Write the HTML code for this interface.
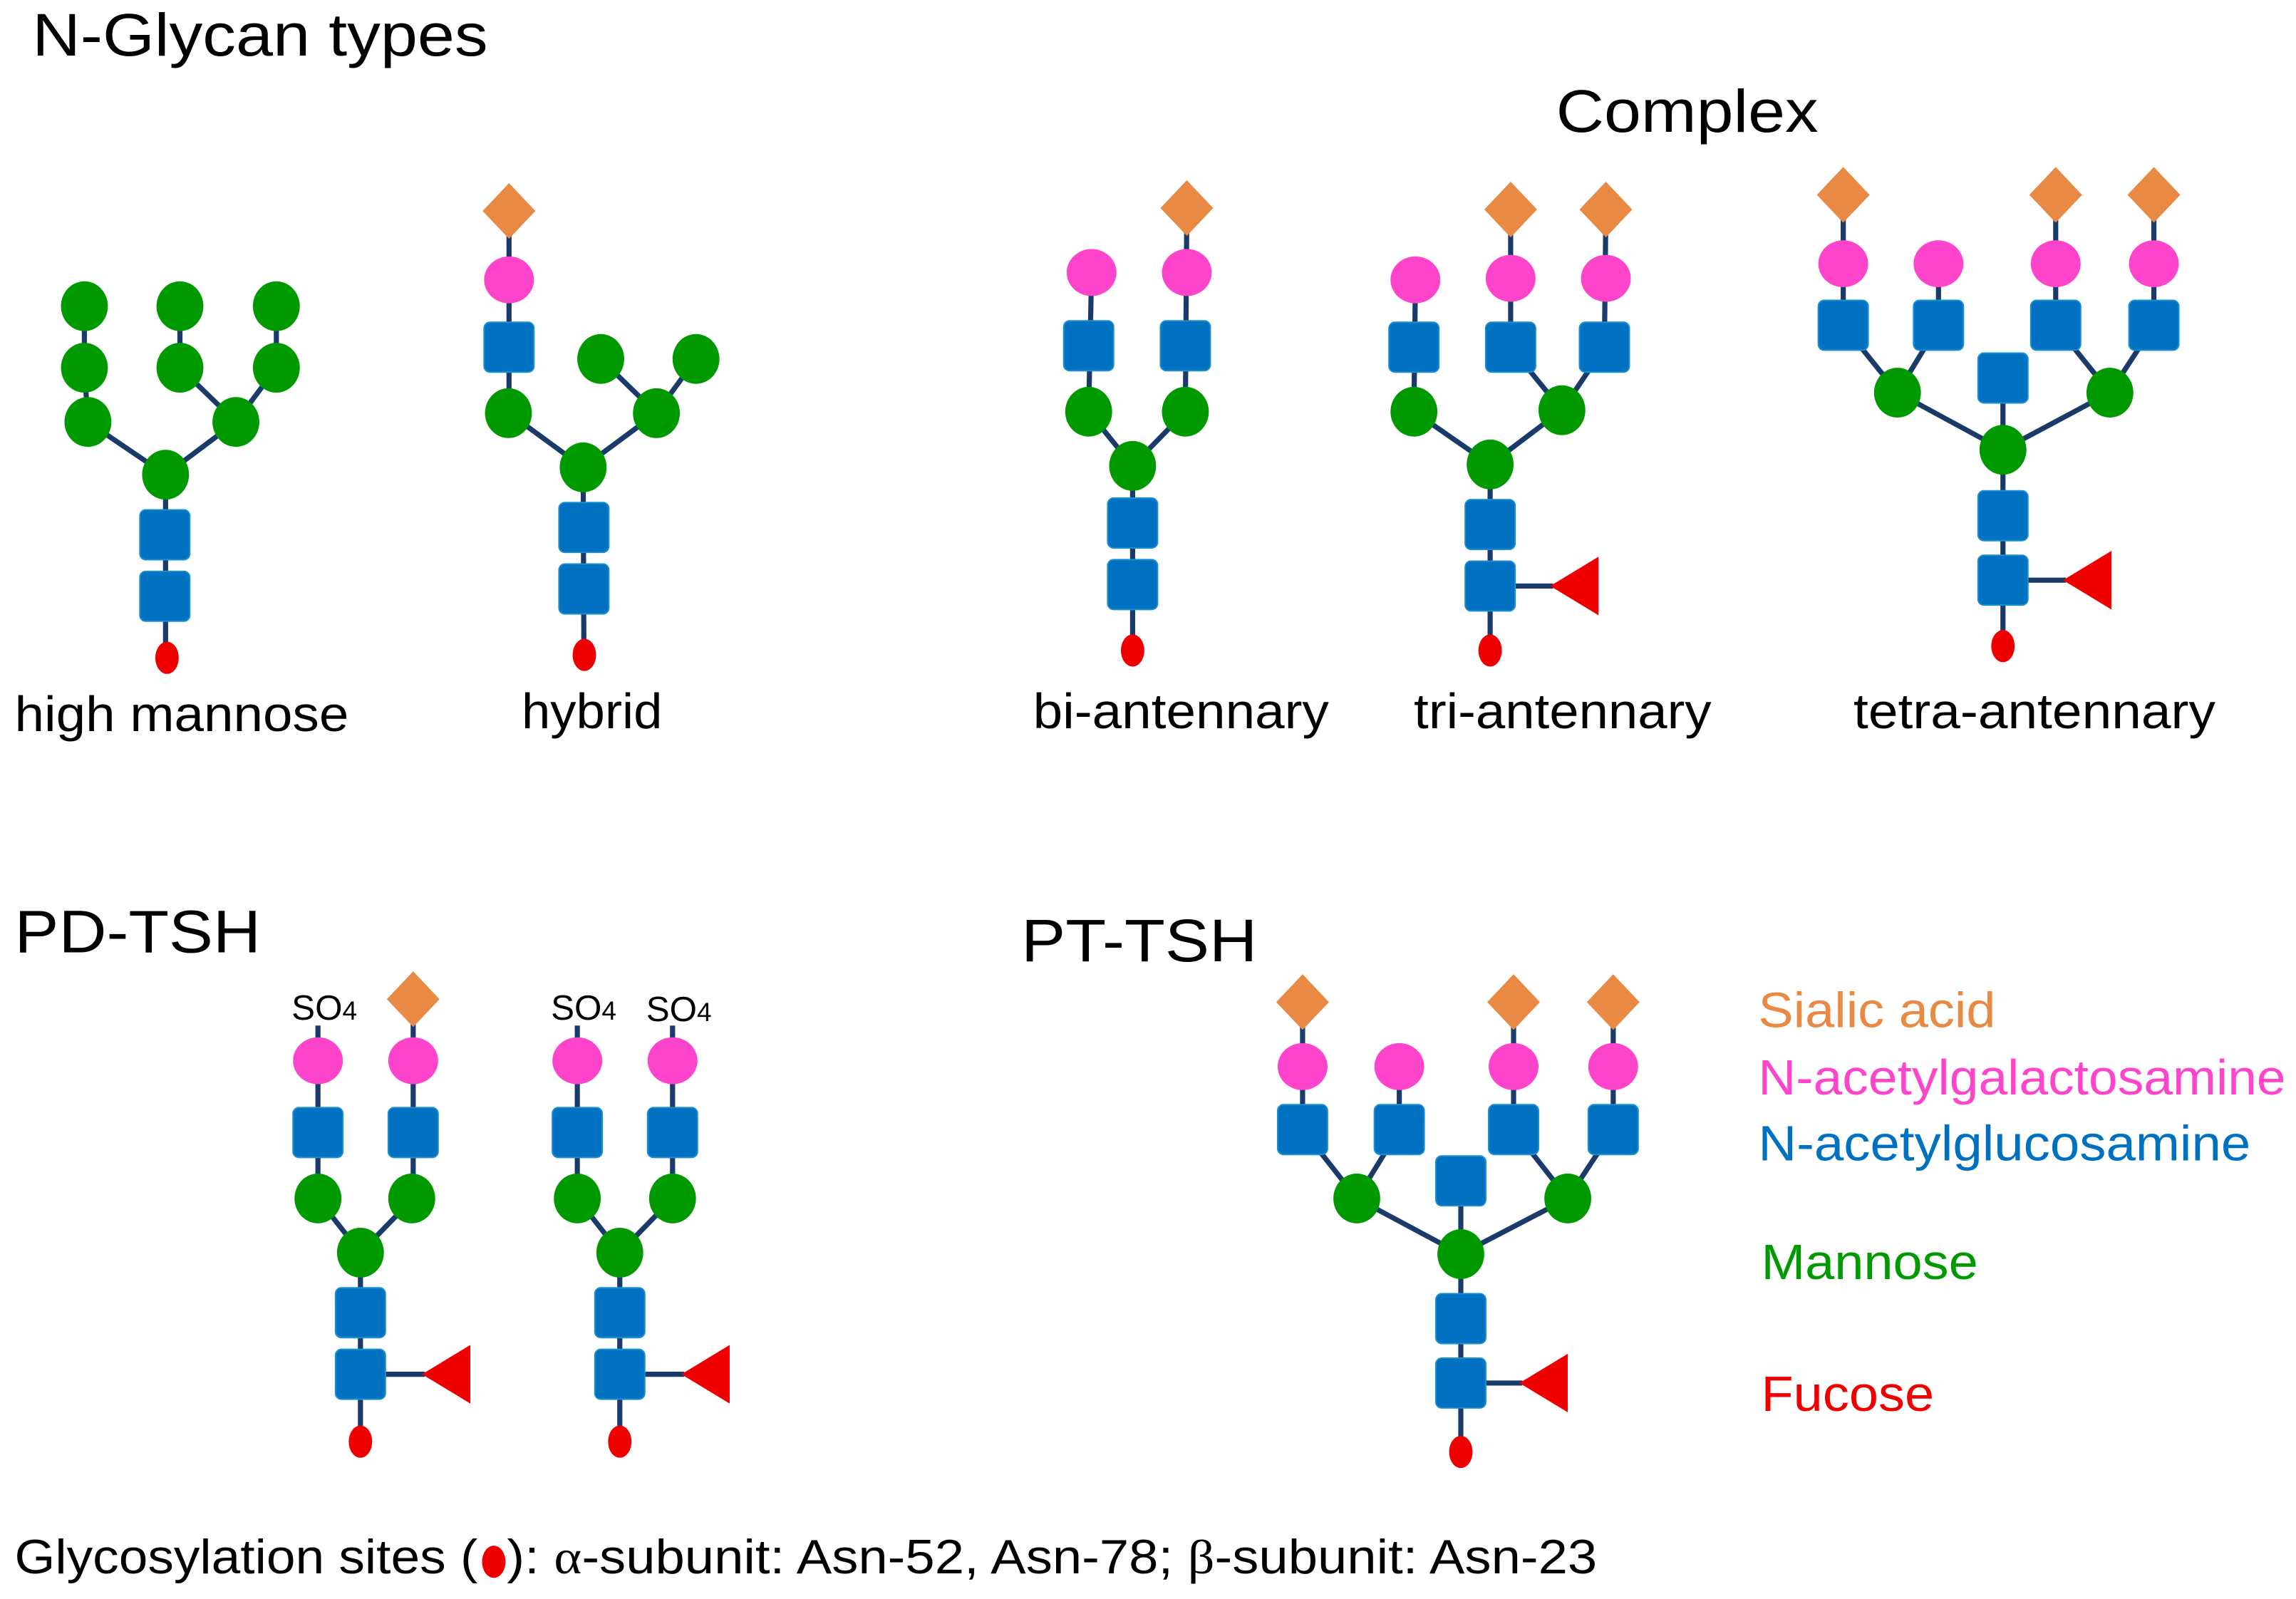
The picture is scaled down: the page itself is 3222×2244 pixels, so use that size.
<!DOCTYPE html>
<html><head><meta charset="utf-8"><style>
html,body{margin:0;padding:0;background:#fff;}
svg{display:block;}
text{font-family:"Liberation Sans",sans-serif;}
</style></head><body>
<svg width="3222" height="2244" viewBox="0 0 1567 1091.4" preserveAspectRatio="none" xmlns="http://www.w3.org/2000/svg">
<defs>
<ellipse id="m" rx="16" ry="17" fill="#009a00"/>
<rect id="g" x="-17" y="-17" width="34" height="34" rx="4" fill="#0070c0" stroke="#1a8fd0" stroke-width="1"/>
<ellipse id="p" rx="17" ry="16" fill="#ff44cc"/>
<polygon id="s" points="0,-19 18,0 0,19 -18,0" fill="#e88a44"/>
<ellipse id="r" rx="8" ry="11" fill="#ee0000"/>
<polygon id="f" points="0,0 33,-20 33,20" fill="#ee0000"/>
</defs>
<rect width="1567" height="1091.4" fill="#fff"/>

<text x="22" y="38" font-size="41" textLength="311" lengthAdjust="spacingAndGlyphs">N-Glycan types</text>
<text x="1062" y="90" font-size="41" textLength="179" lengthAdjust="spacingAndGlyphs">Complex</text>

<g stroke="#1a3a6a" stroke-width="3.5" fill="none">
<polyline points="57.6,209 57.6,251 60,288 113,324"/>
<polyline points="122.8,209 122.8,251 161,288"/>
<polyline points="188.6,209 188.6,251 161,288 113,324"/>
<line x1="113" y1="324" x2="113" y2="449"/>
<polyline points="347.4,144 347.4,282 398,319"/>
<polyline points="410,245 448,282 475,245"/>
<line x1="448" y1="282" x2="398" y2="319"/>
<line x1="398" y1="319" x2="398.5" y2="447"/>
<polyline points="745,186 743,281 773,318"/>
<polyline points="810,142 809,281 773,318"/>
<line x1="773" y1="318" x2="773" y2="444"/>
<polyline points="966,191 965,281 1017,317"/>
<polyline points="1031,143 1031,237 1066,280"/>
<polyline points="1096,143 1095,237 1066,280 1017,317"/>
<line x1="1017" y1="317" x2="1017" y2="444"/>
<line x1="1017" y1="400" x2="1060" y2="400"/>
<polyline points="1258,133 1258,222 1295,268 1367,307"/>
<polyline points="1323,180 1323,222 1295,268"/>
<polyline points="1403,133 1403,222 1440,268 1367,307"/>
<polyline points="1470,133 1470,222 1440,268"/>
<line x1="1367" y1="258" x2="1367" y2="441"/>
<line x1="1367" y1="396" x2="1410" y2="396"/>
<polyline points="217,700 217,818 246,855"/>
<polyline points="282,682 282,818 246,855"/>
<line x1="246" y1="855" x2="246" y2="984"/>
<line x1="246" y1="938" x2="290" y2="938"/>
<polyline points="394,700 394,818 423,855"/>
<polyline points="459,700 459,818 423,855"/>
<line x1="423" y1="855" x2="423" y2="984"/>
<line x1="423" y1="938" x2="467" y2="938"/>
<polyline points="889,684 889,771 926,818 997,856"/>
<polyline points="955,728 955,771 926,818"/>
<polyline points="1033,684 1033,771 1070,818 997,856"/>
<polyline points="1101,684 1101,771 1070,818"/>
<line x1="997" y1="806" x2="997" y2="991"/>
<line x1="997" y1="944" x2="1039" y2="944"/>
</g>

<use href="#m" x="57.6" y="209"/><use href="#m" x="122.8" y="209"/><use href="#m" x="188.6" y="209"/>
<use href="#m" x="57.6" y="251"/><use href="#m" x="122.8" y="251"/><use href="#m" x="188.6" y="251"/>
<use href="#m" x="60" y="288"/><use href="#m" x="161" y="288"/><use href="#m" x="113" y="324"/>
<use href="#g" x="112.5" y="365"/><use href="#g" x="112.5" y="407"/><use href="#r" x="114" y="449"/>
<use href="#s" x="347.4" y="144"/><use href="#p" x="347.4" y="191"/><use href="#g" x="347.4" y="237"/>
<use href="#m" x="347" y="282"/><use href="#m" x="410" y="245"/><use href="#m" x="475" y="245"/>
<use href="#m" x="448" y="282"/><use href="#m" x="398" y="319"/>
<use href="#g" x="398.5" y="360"/><use href="#g" x="398.5" y="402"/><use href="#r" x="398.8" y="447"/>
<use href="#s" x="810" y="142"/><use href="#p" x="745" y="186"/><use href="#p" x="810" y="186"/>
<use href="#g" x="743" y="236"/><use href="#g" x="809" y="236"/>
<use href="#m" x="743" y="281"/><use href="#m" x="809" y="281"/><use href="#m" x="773" y="318"/>
<use href="#g" x="773" y="357"/><use href="#g" x="773" y="399"/><use href="#r" x="773" y="444"/>
<use href="#s" x="1031" y="143"/><use href="#s" x="1096" y="143"/>
<use href="#p" x="966" y="191"/><use href="#p" x="1031" y="190"/><use href="#p" x="1096" y="190"/>
<use href="#g" x="965" y="237"/><use href="#g" x="1031" y="237"/><use href="#g" x="1095" y="237"/>
<use href="#m" x="965" y="281"/><use href="#m" x="1066" y="280"/><use href="#m" x="1017" y="317"/>
<use href="#g" x="1017" y="358"/><use href="#g" x="1017" y="400"/><use href="#f" x="1058" y="400"/><use href="#r" x="1017" y="444"/>
<use href="#s" x="1258" y="133"/><use href="#s" x="1403" y="133"/><use href="#s" x="1470" y="133"/>
<use href="#p" x="1258" y="180"/><use href="#p" x="1323" y="180"/><use href="#p" x="1403" y="180"/><use href="#p" x="1470" y="180"/>
<use href="#g" x="1258" y="222"/><use href="#g" x="1323" y="222"/><use href="#g" x="1403" y="222"/><use href="#g" x="1470" y="222"/>
<use href="#g" x="1367" y="258"/>
<use href="#m" x="1295" y="268"/><use href="#m" x="1440" y="268"/><use href="#m" x="1367" y="307"/>
<use href="#g" x="1367" y="352"/><use href="#g" x="1367" y="396"/><use href="#f" x="1408" y="396"/><use href="#r" x="1367" y="441"/>

<text x="10" y="499" font-size="34" textLength="228" lengthAdjust="spacingAndGlyphs">high mannose</text>
<text x="356" y="497" font-size="34" textLength="96" lengthAdjust="spacingAndGlyphs">hybrid</text>
<text x="705" y="497" font-size="34" textLength="202" lengthAdjust="spacingAndGlyphs">bi-antennary</text>
<text x="965" y="497" font-size="34" textLength="203" lengthAdjust="spacingAndGlyphs">tri-antennary</text>
<text x="1265" y="497" font-size="34" textLength="247" lengthAdjust="spacingAndGlyphs">tetra-antennary</text>

<text x="10" y="650" font-size="41" textLength="168" lengthAdjust="spacingAndGlyphs">PD-TSH</text>
<text x="697" y="656" font-size="41" textLength="161" lengthAdjust="spacingAndGlyphs">PT-TSH</text>

<text x="199" y="696" font-size="24">SO<tspan font-size="18">4</tspan></text>
<use href="#s" x="282" y="682"/>
<use href="#p" x="217" y="724"/><use href="#p" x="282" y="724"/>
<use href="#g" x="217" y="773"/><use href="#g" x="282" y="773"/>
<use href="#m" x="217" y="818"/><use href="#m" x="281" y="818"/><use href="#m" x="246" y="855"/>
<use href="#g" x="246" y="896"/><use href="#g" x="246" y="938"/><use href="#f" x="288" y="938"/><use href="#r" x="246" y="984"/>
<text x="376" y="696" font-size="24">SO<tspan font-size="18">4</tspan></text>
<text x="441" y="697" font-size="24">SO<tspan font-size="18">4</tspan></text>
<use href="#p" x="394" y="724"/><use href="#p" x="459" y="724"/>
<use href="#g" x="394" y="773"/><use href="#g" x="459" y="773"/>
<use href="#m" x="394" y="818"/><use href="#m" x="459" y="818"/><use href="#m" x="423" y="855"/>
<use href="#g" x="423" y="896"/><use href="#g" x="423" y="938"/><use href="#f" x="465" y="938"/><use href="#r" x="423" y="984"/>
<use href="#s" x="889" y="684"/><use href="#s" x="1033" y="684"/><use href="#s" x="1101" y="684"/>
<use href="#p" x="889" y="728"/><use href="#p" x="955" y="728"/><use href="#p" x="1033" y="728"/><use href="#p" x="1101" y="728"/>
<use href="#g" x="889" y="771"/><use href="#g" x="955" y="771"/><use href="#g" x="1033" y="771"/><use href="#g" x="1101" y="771"/>
<use href="#g" x="997" y="806"/>
<use href="#m" x="926" y="818"/><use href="#m" x="1070" y="818"/><use href="#m" x="997" y="856"/>
<use href="#g" x="997" y="900"/><use href="#g" x="997" y="944"/><use href="#f" x="1037" y="944"/><use href="#r" x="997" y="991"/>

<text x="1200" y="701" font-size="34" fill="#e88a44" textLength="162" lengthAdjust="spacingAndGlyphs">Sialic acid</text>
<text x="1200" y="747" font-size="34" fill="#ff44cc" textLength="360" lengthAdjust="spacingAndGlyphs">N-acetylgalactosamine</text>
<text x="1200" y="792" font-size="34" fill="#0070c0" textLength="336" lengthAdjust="spacingAndGlyphs">N-acetylglucosamine</text>
<text x="1202" y="873" font-size="34" fill="#009a00" textLength="148" lengthAdjust="spacingAndGlyphs">Mannose</text>
<text x="1202" y="963" font-size="34" fill="#ee0000" textLength="118" lengthAdjust="spacingAndGlyphs">Fucose</text>

<text x="10" y="1074" font-size="33" textLength="316" lengthAdjust="spacingAndGlyphs">Glycosylation sites (</text>
<ellipse cx="337" cy="1066" rx="8" ry="11" fill="#ee0000"/>
<text x="346" y="1074" font-size="33" textLength="744" lengthAdjust="spacingAndGlyphs">): <tspan font-family="Liberation Serif,serif">α</tspan>-subunit: Asn-52, Asn-78; <tspan font-family="Liberation Serif,serif">β</tspan>-subunit: Asn-23</text>
</svg>
</body></html>
